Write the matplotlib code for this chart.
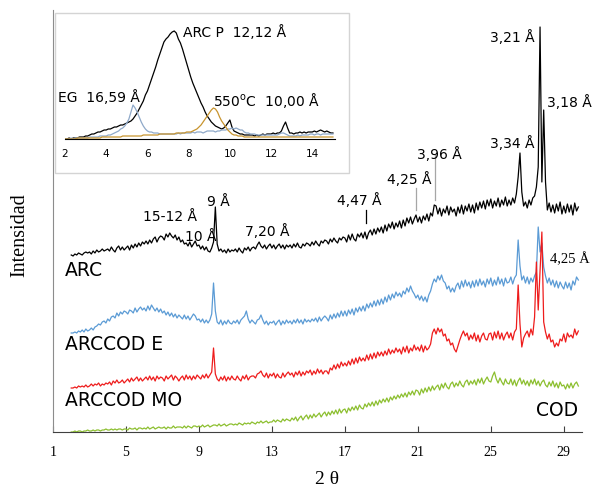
import numpy as np
import matplotlib
matplotlib.use("Agg")
import matplotlib.pyplot as plt
from matplotlib.patches import Rectangle

# ---------------- data ----------------
two_theta = np.round(np.arange(2.0, 29.85, 0.1), 2)   # 2.0 ... 29.8

arc = [
    177,176,178,177,179,178,177,179,180,179,
    180,178,181,179,182,180,181,183,181,182,
    183,181,185,182,180,184,186,182,185,182,
    184,186,182,187,184,188,185,189,186,190,
    188,191,188,192,189,193,195,190,194,196,
    195,192,198,195,199,196,194,197,192,195,
    190,192,188,189,186,190,185,188,191,186,
    187,183,186,182,185,181,180,184,190,225,
    188,181,183,180,182,179,183,180,182,181,
    183,180,184,181,179,184,182,185,181,184,
    185,183,187,190,186,184,187,183,186,188,
    184,187,183,186,188,184,187,183,187,185,
    187,184,188,185,189,185,184,188,186,189,
    188,186,190,187,191,188,186,191,189,192,
    191,188,193,190,194,191,189,194,192,195,
    194,190,197,192,198,193,191,198,195,199,
    194,200,193,199,202,197,203,198,204,200,
    205,199,207,201,208,204,210,203,209,205,
    211,204,212,206,214,209,215,208,213,217,
    210,215,209,216,212,218,211,219,216,227,
    226,218,224,216,223,219,226,217,225,220,
    223,216,225,219,227,218,226,221,228,220,
    227,219,229,222,230,224,231,223,232,226,
    233,224,231,226,234,225,232,227,235,226,
    232,227,234,229,238,255,279,240,226,230,
    224,232,227,234,236,245,265,405,250,322,
    250,222,229,220,227,219,228,221,230,218,
    226,219,228,220,227,217,229,221,225,
]

arccod_e = [
    99,99,100,99,101,100,102,100,103,101,
    102,104,102,105,106,108,107,110,111,109,
    113,111,115,116,114,119,116,120,118,121,
    120,118,122,121,119,124,120,123,125,122,
    124,121,126,122,127,124,121,124,120,123,
    119,121,117,120,116,119,115,118,114,117,
    115,113,117,113,116,112,115,118,116,112,
    113,110,113,109,112,109,112,118,149,121,
    110,108,112,107,111,108,112,109,108,111,
    109,112,108,112,114,116,121,113,109,112,
    110,108,112,113,117,112,108,111,107,110,
    109,111,107,110,112,107,111,108,112,109,
    111,108,112,109,113,109,112,108,113,110,
    112,110,113,111,114,110,115,111,114,116,
    114,111,117,113,118,114,119,115,121,116,
    121,116,122,118,123,117,124,120,125,121,
    126,121,128,124,129,125,131,126,132,127,
    133,128,135,130,137,132,138,134,140,136,
    139,135,141,138,144,140,146,141,138,134,
    137,132,136,131,135,130,137,141,148,153,
    150,156,152,157,151,149,143,146,140,144,
    140,146,149,143,151,145,152,146,150,144,
    151,145,152,146,153,147,151,145,153,148,
    154,146,152,147,155,148,153,146,154,149,
    150,155,148,154,157,192,166,152,156,149,
    155,148,154,150,156,160,205,180,189,165,
    156,149,154,147,152,145,151,144,150,146,
    143,150,144,149,142,151,147,155,152,
]

arccod_mo = [
    44,44,45,44,46,45,46,45,47,45,
    46,48,46,48,47,49,46,48,47,49,
    48,50,47,51,49,52,49,50,52,49,
    51,53,50,54,51,53,55,51,54,51,
    53,55,52,56,52,55,51,56,53,55,
    54,51,56,53,55,57,52,56,54,51,
    54,56,52,57,53,56,52,56,53,57,
    55,53,57,54,58,54,57,60,84,58,
    53,51,55,52,56,51,55,52,56,53,
    52,56,53,51,56,53,57,52,55,56,
    56,54,58,59,61,57,55,59,54,58,
    56,59,54,58,55,54,59,55,58,60,
    57,59,55,60,57,61,56,60,57,61,
    59,62,57,61,58,63,59,62,58,61,
    61,58,64,62,67,63,68,64,70,66,
    69,66,71,67,73,68,74,69,75,71,
    74,71,77,72,78,73,79,74,80,76,
    80,76,81,77,83,78,82,79,84,80,
    83,78,85,80,86,79,84,81,87,82,
    85,81,87,80,86,82,84,88,99,103,
    98,104,100,103,96,98,91,93,87,89,
    83,80,86,92,97,101,96,99,92,97,
    93,99,91,97,90,96,99,93,92,98,
    99,92,100,94,101,93,99,92,97,100,
    94,99,92,100,103,147,108,85,94,98,
    101,95,103,97,115,170,122,160,200,110,
    100,93,98,90,92,85,89,86,93,91,
    98,90,99,95,97,94,103,97,101,
]

cod = [
    0,0,1,0,1,1,0,1,1,2,
    1,1,2,1,2,2,1,2,2,3,
    2,2,3,2,3,2,3,3,2,3,
    3,2,4,3,3,4,2,4,4,3,
    4,3,5,3,4,5,3,4,5,4,
    4,5,3,5,4,4,6,4,5,5,
    5,4,6,4,6,5,4,6,6,5,
    6,5,7,5,6,7,5,6,7,7,
    6,8,6,7,8,6,7,8,8,7,
    8,7,9,8,7,9,8,9,8,10,
    9,8,10,9,11,9,10,11,9,10,
    10,12,10,12,11,10,13,11,13,12,
    11,14,12,15,11,14,16,12,15,17,
    13,17,14,18,15,17,19,15,18,20,
    16,20,17,21,18,22,18,23,19,22,
    23,19,24,21,25,22,26,22,27,24,
    23,28,25,29,26,30,26,31,27,32,
    29,33,30,34,30,35,32,36,33,37,
    34,38,35,39,35,40,37,41,37,42,
    41,37,43,39,44,40,45,41,46,42,
    45,47,42,48,44,49,45,43,48,50,
    45,49,46,51,47,45,50,52,47,51,
    48,52,47,53,49,54,48,52,55,51,
    50,56,60,53,49,54,50,47,53,49,
    48,53,47,52,46,51,54,48,52,47,
    51,46,52,48,53,47,51,46,50,52,
    47,45,50,46,51,45,49,44,50,46,
    47,43,48,44,49,44,48,50,46,
]

series_names = ["ARC", "ARCCOD E", "ARCCOD MO", "COD"]
series_colors = ["#000000", "#5b9bd5", "#ee1c1c", "#8cbf2f"]

# inset data (2.0 ... 15.0)
inset_theta = np.round(np.arange(2.0, 15.05, 0.1), 2)
inset_arc_p = [
    0,0,1,0,1,1,1,2,2,2,
    3,3,4,5,5,6,7,7,8,9,
    9,10,10,11,12,12,13,14,14,15,
    16,17,18,20,23,26,30,34,38,44,
    48,54,60,66,72,79,85,91,97,100,
    102,105,107,108,106,100,96,90,83,76,
    69,62,56,51,46,41,36,32,27,23,
    20,17,15,13,12,11,10,11,13,16,
    19,12,8,7,6,5,5,4,4,4,
    4,4,3,4,3,4,5,4,5,5,
    5,6,5,6,6,8,13,17,11,6,
    6,5,6,6,7,6,7,6,7,7,
    7,8,7,8,9,8,7,8,7,6,
    6,
]
inset_eg = [
    0,0,0,1,0,1,1,1,1,1,
    1,1,2,2,2,2,2,3,3,3,
    3,4,4,5,6,7,8,10,11,13,
    16,20,27,34,31,27,22,17,13,10,
    8,7,7,6,6,6,5,5,5,5,
    5,5,5,5,5,6,5,6,6,6,
    6,6,7,6,7,7,7,6,7,8,
    8,8,8,7,8,8,9,9,9,10,
    10,11,10,11,10,9,9,7,6,6,
    5,5,5,4,4,4,4,4,4,4,
    4,4,4,4,5,6,6,5,4,3,
    3,3,3,4,3,4,4,4,4,5,
    5,4,5,5,4,5,5,5,5,5,
    5,
]
inset_550 = [
    0,0,0,0,0,0,1,1,1,1,
    1,1,1,1,1,1,1,1,2,2,
    2,2,2,2,2,2,2,2,3,3,
    3,3,3,3,3,3,3,3,4,4,
    4,4,4,4,4,4,5,5,5,5,
    5,5,5,5,6,6,6,6,6,7,
    7,7,8,9,10,12,14,17,20,23,
    26,29,31,30,27,22,18,15,12,9,
    7,5,4,4,3,3,3,2,2,2,
    2,2,2,2,2,2,2,2,2,2,
    2,2,2,2,2,2,2,2,2,2,
    2,2,2,2,2,2,2,2,2,2,
    2,2,2,2,2,2,2,2,2,2,
    2,
]
inset_colors = ["#000000", "#8fa9c9", "#c8942e"]

main_ticks = [1, 5, 9, 13, 17, 21, 25, 29]
inset_ticks = [2, 4, 6, 8, 10, 12, 14]

# peak labels: (text, x px, y px center)
peak_labels = [
    ("15-12 Å", 143, 217), ("10 Å", 185, 237), ("9 Å", 207, 202),
    ("7,20 Å", 245, 232), ("4,47 Å", 337, 201), ("4,25 Å", 387, 180),
    ("3,96 Å", 417, 155), ("3,34 Å", 490, 144), ("3,21 Å", 490, 38),
    ("3,18 Å", 547, 103),
]
# marker lines: (2theta, h0, h1, color)
marker_lines = [(18.16, 209, 222, "#000000"), (20.9, 222, 244, "#a6a6a6"),
                (21.94, 232, 277, "#a6a6a6")]

# ---------------- figure ----------------
W, H = 592, 495
fig = plt.figure(figsize=(W / 100, H / 100), dpi=100)
fig.patch.set_facecolor("white")

def fx(px):
    return px / W

def fy(py):
    return 1 - py / H

ax = fig.add_axes([fx(53), fy(432), (582 - 53) / W, (432 - 10) / H])
ax.set_xlim(1, 30)
ax.set_ylim(0, 422)
for name, col, ys in zip(series_names, series_colors, [arc, arccod_e, arccod_mo, cod]):
    ax.plot(two_theta, ys, color=col, lw=0.9)
for xv, h0, h1, c in marker_lines:
    ax.plot([xv, xv], [h0, h1], color=c, lw=0.9)

for s in ["top", "right"]:
    ax.spines[s].set_visible(False)
ax.spines["left"].set_color("#8c8c8c")
ax.spines["bottom"].set_color("#404040")
ax.set_yticks([])
ax.set_xticks(main_ticks)
ax.set_xticklabels([str(t) for t in main_ticks], family="Liberation Serif", fontsize=10)
ax.tick_params(axis="x", direction="in", length=4, width=0.8, color="#404040", pad=10)

fig.text(fx(20), fy(235), "Intensidad", rotation=90, family="Liberation Serif",
         fontsize=14.5, ha="center", va="center")
fig.text(fx(327), fy(480), "2 θ", family="Liberation Serif", fontsize=14,
         ha="center", va="center")

# series labels
fig.text(fx(65), fy(271), "ARC", fontsize=13.5, va="center", family="DejaVu Sans")
fig.text(fx(65), fy(345), "ARCCOD E", fontsize=13.5, va="center", family="DejaVu Sans")
fig.text(fx(65), fy(400), "ARCCOD MO", fontsize=13.5, va="center", family="DejaVu Sans")
fig.text(fx(578), fy(410), "COD", fontsize=13.5, va="center", ha="right", family="DejaVu Sans")
for t, px, py in peak_labels:
    fig.text(fx(px), fy(py), t, fontsize=10, va="center", family="DejaVu Sans")
fig.text(fx(550), fy(259), "4,25 Å", fontsize=10.5, va="center", family="Liberation Serif")

# inset frame
fig.patches.append(Rectangle((fx(55), fy(173)), (349 - 55) / W, (173 - 13) / H,
                             transform=fig.transFigure, facecolor="white",
                             edgecolor="#d4d4d4", lw=1.0, zorder=2))
axi = fig.add_axes([fx(65), fy(139), (335 - 65) / W, (139 - 20) / H], zorder=3)
axi.patch.set_alpha(0)
axi.set_xlim(2, 15.1)
axi.set_ylim(0, 119)
for ys, col in zip([inset_arc_p, inset_eg, inset_550], inset_colors):
    axi.plot(inset_theta, ys, color=col, lw=0.9)
for s in ["top", "right", "left"]:
    axi.spines[s].set_visible(False)
axi.spines["bottom"].set_color("#000000")
axi.set_yticks([])
axi.set_xticks(inset_ticks)
axi.set_xticklabels([str(t) for t in inset_ticks], fontsize=7.5, family="DejaVu Sans")
axi.tick_params(axis="x", length=0, pad=7)

fig.text(fx(183), fy(33), "ARC P  12,12 Å", fontsize=10, va="center", family="DejaVu Sans", zorder=4)
fig.text(fx(58), fy(98), "EG  16,59 Å", fontsize=10, va="center", family="DejaVu Sans", zorder=4)
fig.text(fx(213), fy(101), "550$^{\\mathregular{o}}$C  10,00 Å", fontsize=10, va="center",
         family="DejaVu Sans", zorder=4)

fig.savefig("out.png", dpi=100)
